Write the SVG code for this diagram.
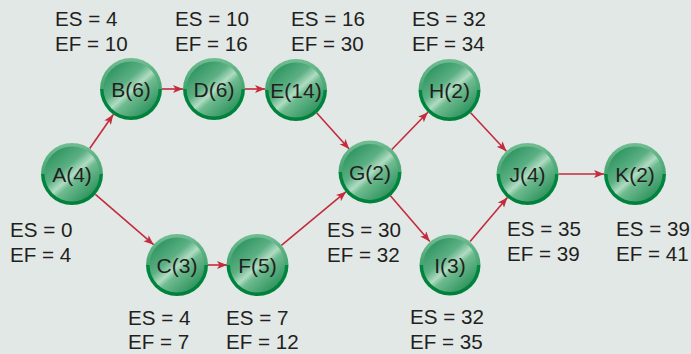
<svg xmlns="http://www.w3.org/2000/svg" width="691" height="354" viewBox="0 0 691 354">
<defs>
<linearGradient id="rim" x1="0" y1="0" x2="0" y2="1">
<stop offset="0" stop-color="#72bd93"/>
<stop offset="0.5" stop-color="#45a571"/>
<stop offset="0.5" stop-color="#00873f"/>
<stop offset="1" stop-color="#00803b"/>
</linearGradient>
<linearGradient id="body" x1="0.15" y1="0.1" x2="0.85" y2="0.9">
<stop offset="0" stop-color="#2f9560"/>
<stop offset="0.35" stop-color="#5cb084"/>
<stop offset="0.52" stop-color="#b0dcc2"/>
<stop offset="0.62" stop-color="#6fbb90"/>
<stop offset="1" stop-color="#2e935d"/>
</linearGradient>
<marker id="ah" markerWidth="11" markerHeight="9" refX="10" refY="4" orient="auto" markerUnits="userSpaceOnUse">
<path d="M0,0 L10,4 L0,8 L2.5,4 Z" fill="#c42b3d"/>
</marker>
</defs>
<style>
.rim{fill:url(#rim)}
.body{fill:url(#body)}
.lbl{font-family:"Liberation Sans",Arial,sans-serif;font-size:21px;fill:#231f20;text-anchor:middle}
.es{font-family:"Liberation Sans",Arial,sans-serif;font-size:20.6px;fill:#231f20}
.edge{stroke:#c42b3d;stroke-width:1.6;fill:none;marker-end:url(#ah)}
</style>
<rect width="691" height="354" fill="#e2e8e6"/>
<g id="connectors">
<line class="edge" x1="89.7" y1="148.5" x2="113.3" y2="114.5"/>
<line class="edge" x1="95.4" y1="194.3" x2="153.6" y2="244.7"/>
<line class="edge" x1="162" y1="89" x2="183" y2="89"/>
<line class="edge" x1="245" y1="89" x2="265" y2="89"/>
<line class="edge" x1="316.8" y1="113" x2="349.2" y2="149"/>
<line class="edge" x1="207" y1="265" x2="227" y2="265"/>
<line class="edge" x1="281.4" y1="245.3" x2="346.1" y2="191.7"/>
<line class="edge" x1="391.6" y1="149.7" x2="427.9" y2="112.3"/>
<line class="edge" x1="390.2" y1="195.5" x2="429.8" y2="241.5"/>
<line class="edge" x1="470.6" y1="112.7" x2="506.4" y2="151.3"/>
<line class="edge" x1="470.1" y1="241.4" x2="507.4" y2="197.6"/>
<line class="edge" x1="558.5" y1="174" x2="604" y2="174"/>
</g>
<g id="A">
<circle class="rim" cx="72" cy="174" r="31"/><circle class="body" cx="72" cy="174" r="27.5"/>
<text class="lbl" x="72" y="181.5">A(4)</text>
<text class="es" x="10" y="237">ES = 0</text><text class="es" x="10" y="262">EF = 4</text>
</g>
<g id="B">
<circle class="rim" cx="131" cy="89" r="31"/><circle class="body" cx="131" cy="89" r="27.5"/>
<text class="lbl" x="131" y="96.5">B(6)</text>
<text class="es" x="55" y="26">ES = 4</text><text class="es" x="55" y="51">EF = 10</text>
</g>
<g id="D">
<circle class="rim" cx="214" cy="89" r="31"/><circle class="body" cx="214" cy="89" r="27.5"/>
<text class="lbl" x="214" y="96.5">D(6)</text>
<text class="es" x="175" y="26">ES = 10</text><text class="es" x="175" y="51">EF = 16</text>
</g>
<g id="E">
<circle class="rim" cx="296" cy="90" r="31"/><circle class="body" cx="296" cy="90" r="27.5"/>
<text class="lbl" x="296" y="97.5">E(14)</text>
<text class="es" x="291" y="26">ES = 16</text><text class="es" x="291" y="51">EF = 30</text>
</g>
<g id="C">
<circle class="rim" cx="177" cy="265" r="31"/><circle class="body" cx="177" cy="265" r="27.5"/>
<text class="lbl" x="177" y="272.5">C(3)</text>
<text class="es" x="128" y="325">ES = 4</text><text class="es" x="128" y="349">EF = 7</text>
</g>
<g id="F">
<circle class="rim" cx="257.5" cy="265" r="31"/><circle class="body" cx="257.5" cy="265" r="27.5"/>
<text class="lbl" x="257.5" y="272.5">F(5)</text>
<text class="es" x="226" y="325">ES = 7</text><text class="es" x="226" y="349">EF = 12</text>
</g>
<g id="G">
<circle class="rim" cx="370" cy="172" r="31.5"/><circle class="body" cx="370" cy="172" r="28"/>
<text class="lbl" x="370" y="179.5">G(2)</text>
<text class="es" x="327" y="237">ES = 30</text><text class="es" x="327" y="262">EF = 32</text>
</g>
<g id="H">
<circle class="rim" cx="449.5" cy="90" r="31"/><circle class="body" cx="449.5" cy="90" r="27.5"/>
<text class="lbl" x="449.5" y="97.5">H(2)</text>
<text class="es" x="412" y="26">ES = 32</text><text class="es" x="412" y="51">EF = 34</text>
</g>
<g id="I">
<circle class="rim" cx="450" cy="265" r="30.5"/><circle class="body" cx="450" cy="265" r="27"/>
<text class="lbl" x="450" y="272.5">I(3)</text>
<text class="es" x="410" y="324">ES = 32</text><text class="es" x="410" y="349">EF = 35</text>
</g>
<g id="J">
<circle class="rim" cx="527.5" cy="174" r="31"/><circle class="body" cx="527.5" cy="174" r="27.5"/>
<text class="lbl" x="527.5" y="181.5">J(4)</text>
<text class="es" x="507" y="236">ES = 35</text><text class="es" x="507" y="261">EF = 39</text>
</g>
<g id="K">
<circle class="rim" cx="635" cy="174" r="31"/><circle class="body" cx="635" cy="174" r="27.5"/>
<text class="lbl" x="635" y="181.5">K(2)</text>
<text class="es" x="616" y="236">ES = 39</text><text class="es" x="616" y="261">EF = 41</text>
</g>
</svg>
